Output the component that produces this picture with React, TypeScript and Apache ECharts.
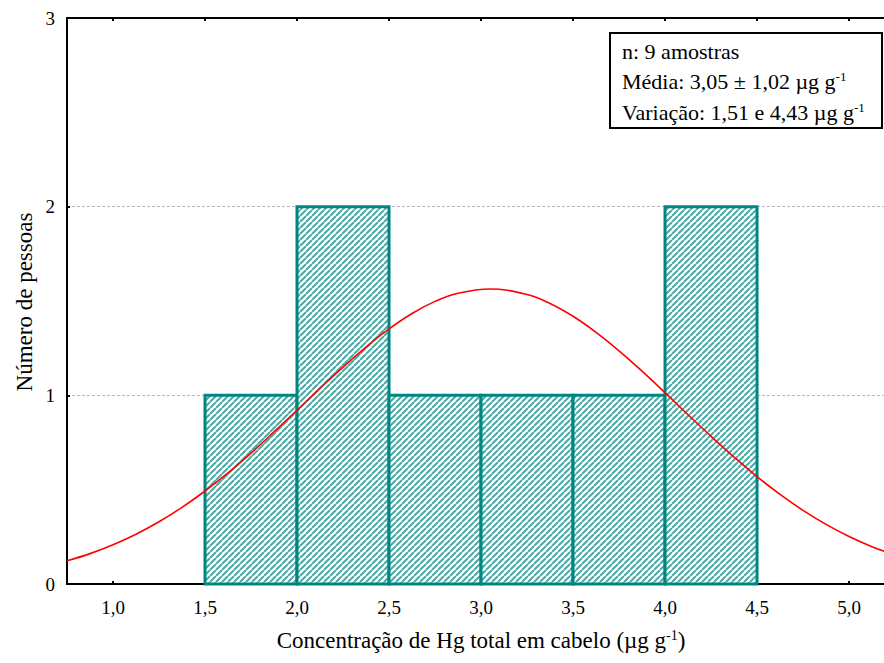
import React, { useEffect, useRef } from "react";
import * as echarts from "echarts";

// Histogram bins: [start, end, count]
const binStarts = [1.5, 2.0, 2.5, 3.0, 3.5, 4.0];
const binEnds = [2.0, 2.5, 3.0, 3.5, 4.0, 4.5];
const binCounts = [1, 2, 1, 1, 1, 2];

// Fitted normal curve (mean 3,05; sd 1,02)
const curveX = [0.75, 0.875, 1.0, 1.125, 1.25, 1.375, 1.5, 1.625, 1.75, 1.875, 2.0, 2.125, 2.25, 2.375, 2.5, 2.625, 2.75, 2.875, 3.05, 3.25, 3.375, 3.5, 3.625, 3.75, 3.875, 4.0, 4.125, 4.25, 4.375, 4.5, 4.625, 4.75, 4.875, 5.0, 5.125, 5.25];
const curveY = [0.123, 0.161, 0.208, 0.264, 0.33, 0.406, 0.493, 0.589, 0.694, 0.806, 0.921, 1.037, 1.15, 1.256, 1.352, 1.434, 1.498, 1.541, 1.564, 1.534, 1.487, 1.419, 1.334, 1.236, 1.128, 1.014, 0.897, 0.783, 0.673, 0.569, 0.475, 0.39, 0.316, 0.252, 0.198, 0.153];

const xTicks = [1.0, 1.5, 2.0, 2.5, 3.0, 3.5, 4.0, 4.5, 5.0];
const yTicks = [0, 1, 2, 3];

const FONT = "'Liberation Serif', 'Times New Roman', serif";
const TEAL = "#00857f";

function makeHatch(): string {
  const c = document.createElement("canvas");
  c.width = 6;
  c.height = 6;
  const ctx = c.getContext("2d")!;
  ctx.fillStyle = "#ffffff";
  ctx.fillRect(0, 0, 6, 6);
  ctx.strokeStyle = "#4aaba6";
  ctx.lineWidth = 2;
  ctx.beginPath();
  for (let k = -6; k <= 12; k += 6) {
    ctx.moveTo(k, 6);
    ctx.lineTo(k + 6, 0);
  }
  ctx.stroke();
  return c.toDataURL();
}

export default function App() {
  const ref = useRef<HTMLDivElement>(null);
  useEffect(() => {
    if (!ref.current) return;
    const chart = echarts.init(ref.current, null, { renderer: "svg" });
    const hatch = makeHatch();
    const barData = binStarts.map((s, i) => [s, binEnds[i], binCounts[i]]);
    const lineData = curveX.map((x, i) => [x, curveY[i]]);
    const fmt = (v: number) => v.toFixed(1).replace(".", ",");
    const sup = { fontSize: 13, fontFamily: FONT, verticalAlign: "top" as const, padding: [0, 0, 9, 0] };
    const main = { fontSize: 22, fontFamily: FONT, verticalAlign: "bottom" as const };
    chart.setOption({
      animation: false,
      backgroundColor: "#ffffff",
      grid: { left: 67, top: 18, bottom: 79, right: 0 },
      xAxis: [
        {
          type: "value",
          min: 0.75,
          max: 5.19,
          position: "bottom",
          axisLine: { show: true, onZero: false, lineStyle: { color: "#000", width: 2 } },
          axisTick: { show: true, inside: true, length: 3, lineStyle: { color: "#000", width: 2 }, customValues: xTicks },
          axisLabel: {
            fontFamily: FONT,
            fontSize: 19,
            color: "#000",
            margin: 14,
            customValues: xTicks,
            formatter: (v: number) => fmt(v),
          },
          splitLine: { show: false },
        },
        {
          type: "value",
          min: 0.75,
          max: 5.19,
          position: "top",
          axisLine: { show: true, onZero: false, lineStyle: { color: "#000", width: 2 } },
          axisTick: { show: true, inside: true, length: 3, lineStyle: { color: "#000", width: 2 }, customValues: xTicks },
          axisLabel: { show: false },
          splitLine: { show: false },
        },
      ],
      yAxis: {
        type: "value",
        min: 0,
        max: 3,
        interval: 1,
        axisLine: { show: true, onZero: false, lineStyle: { color: "#000", width: 2 } },
        axisTick: { show: true, inside: true, length: 3, lineStyle: { color: "#000", width: 2 }, customValues: yTicks },
        axisLabel: { fontFamily: FONT, fontSize: 19, color: "#000", margin: 12, customValues: yTicks },
        splitLine: { show: true, lineStyle: { color: "#b8b8b8", type: [3, 2], width: 1 } },
      },
      series: [
        {
          type: "custom",
          xAxisIndex: 0,
          yAxisIndex: 0,
          data: barData,
          encode: { x: [0, 1], y: 2 },
          renderItem: (params: any, api: any) => {
            const p0 = api.coord([api.value(0), 0]);
            const p1 = api.coord([api.value(1), api.value(2)]);
            return {
              type: "rect",
              shape: { x: p0[0], y: p1[1], width: p1[0] - p0[0], height: p0[1] - p1[1] },
              style: {
                fill: { image: hatch, repeat: "repeat" },
                stroke: TEAL,
                lineWidth: 3,
              },
            };
          },
          z: 2,
        },
        {
          type: "line",
          xAxisIndex: 0,
          data: lineData,
          smooth: 0.4,
          showSymbol: false,
          lineStyle: { color: "#ff0000", width: 1.6 },
          z: 3,
        },
      ],
      graphic: [
        {
          type: "rect",
          shape: { x: 610, y: 33, width: 272, height: 95 },
          style: { fill: "#fff", stroke: "#000", lineWidth: 2 },
          z: 10,
        },
        {
          type: "text",
          x: 622,
          y: 51,
          style: { text: "n: 9 amostras", fontSize: 22, fontFamily: FONT, fill: "#000", verticalAlign: "middle" },
          z: 11,
        },
        {
          type: "text",
          x: 622,
          y: 81,
          style: {
            text: "{a|Média: 3,05 ± 1,02 µg g}{s|-1}",
            fill: "#000",
            verticalAlign: "middle",
            rich: { a: main, s: sup },
          },
          z: 11,
        },
        {
          type: "text",
          x: 622,
          y: 112,
          style: {
            text: "{a|Variação: 1,51 e 4,43 µg g}{s|-1}",
            fill: "#000",
            verticalAlign: "middle",
            rich: { a: main, s: sup },
          },
          z: 11,
        },
        {
          type: "text",
          x: 481,
          y: 640,
          style: {
            text: "{a|Concentração de Hg total em cabelo (µg g}{s|-1}{a|)}",
            fill: "#000",
            align: "center",
            verticalAlign: "middle",
            rich: {
              a: { fontSize: 23, fontFamily: FONT, verticalAlign: "bottom" },
              s: { fontSize: 14, fontFamily: FONT, verticalAlign: "top", padding: [0, 0, 9, 0] },
            },
          },
        },
        {
          type: "text",
          x: 24,
          y: 302,
          rotation: Math.PI / 2,
          style: {
            text: "Número de pessoas",
            fontSize: 23,
            fontFamily: FONT,
            fill: "#000",
            align: "center",
            verticalAlign: "middle",
          },
        },
      ],
    });
    return () => chart.dispose();
  }, []);
  return (
    <div
      ref={ref}
      style={{ position: "fixed", left: 0, top: 0, width: 884, height: 663, background: "#fff" }}
    />
  );
}
